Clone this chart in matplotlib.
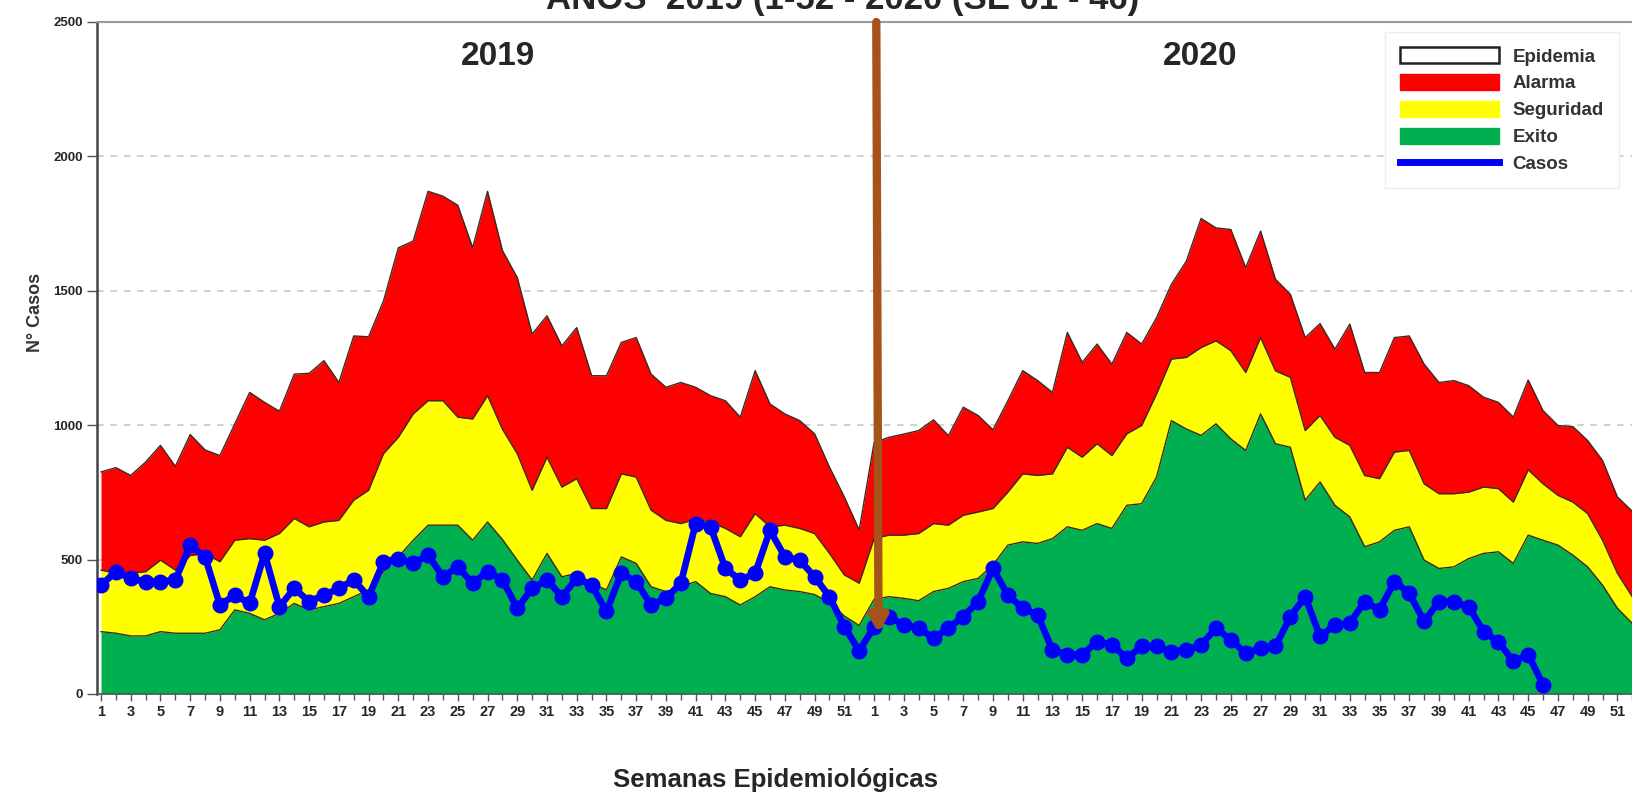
import matplotlib
matplotlib.use("Agg")
import matplotlib.pyplot as plt
from matplotlib.patches import Patch
from matplotlib.lines import Line2D
import numpy as np

plt.rcParams['font.family'] = ['Liberation Sans', 'DejaVu Sans']

# ---------------- data ----------------
weeks_2019 = list(range(1, 53))
weeks_2020 = list(range(1, 53))

exito_2019 = [232, 226, 216, 216, 232, 226, 226, 226, 239, 313, 300, 276, 300, 337, 313, 325,
              337, 362, 387, 455, 510, 572, 628, 628, 628, 572, 640, 575, 498, 424, 523, 436,
              449, 412, 387, 510, 486, 399, 381, 399, 418, 374, 362, 331, 362, 399, 387, 381,
              370, 340, 290, 255]
exito_2020 = [352, 362, 356, 347, 381, 393, 418, 430, 480, 554, 566, 560, 578, 622, 609, 634,
              616, 702, 708, 807, 1017, 986, 962, 1005, 949, 906, 1042, 931, 918, 721, 789, 702,
              659, 548, 566, 609, 622, 498, 467, 473, 504, 523, 529, 486, 591, 572, 554, 517,
              473, 405, 319, 263]

seguridad_2019 = [461, 449, 449, 455, 498, 461, 515, 523, 492, 572, 578, 572, 597, 653, 622, 640,
                  646, 721, 758, 894, 955, 1042, 1091, 1091, 1030, 1023, 1110, 985, 894, 758, 881, 770,
                  801, 690, 690, 819, 807, 684, 646, 634, 650, 640, 616, 585, 671, 622, 628, 616,
                  597, 523, 443, 412]
seguridad_2020 = [578, 591, 591, 597, 634, 628, 665, 677, 690, 751, 819, 813, 819, 918, 881, 931,
                  887, 968, 999, 1116, 1246, 1252, 1289, 1314, 1277, 1196, 1326, 1202, 1178, 980, 1036, 955,
                  925, 813, 801, 900, 906, 782, 745, 745, 751, 770, 764, 714, 834, 782, 739, 714,
                  671, 572, 449, 362]

alarma_2019 = [826, 842, 813, 863, 925, 847, 965, 908, 887, 1005, 1122, 1085, 1052, 1190, 1193, 1240,
               1159, 1332, 1329, 1462, 1660, 1685, 1870, 1852, 1818, 1660, 1870, 1650, 1549, 1339, 1407, 1295,
               1363, 1184, 1184, 1308, 1326, 1190, 1141, 1159, 1141, 1110, 1091, 1030, 1203, 1079, 1042, 1017,
               968, 844, 733, 610]
alarma_2020 = [935, 955, 967, 980, 1020, 961, 1067, 1036, 983, 1091, 1203, 1166, 1122, 1345, 1234, 1302,
               1227, 1345, 1302, 1400, 1524, 1610, 1769, 1734, 1728, 1586, 1722, 1543, 1487, 1326, 1378, 1283,
               1376, 1196, 1196, 1326, 1332, 1227, 1159, 1166, 1147, 1104, 1085, 1030, 1168, 1054, 999, 995,
               943, 869, 733, 680]

casos_2019 = [405, 455, 430, 418, 418, 424, 554, 510, 331, 368, 337, 523, 325, 393, 344, 368,
              393, 424, 362, 492, 504, 486, 517, 436, 473, 412, 455, 425, 319, 393, 424, 362,
              430, 405, 307, 449, 418, 331, 356, 412, 634, 622, 467, 424, 449, 609, 510, 498,
              436, 362, 251, 160]
casos_2020 = [250, 288, 257, 245, 208, 245, 288, 344, 467, 368, 319, 294, 164, 146, 146, 195,
              183, 133, 177, 177, 158, 164, 183, 245, 201, 152, 170, 177, 288, 362, 214, 257,
              263, 344, 313, 418, 375, 270, 344, 344, 325, 232, 195, 121, 146, 35]

y_ticks = [0, 500, 1000, 1500, 2000, 2500]
legend_labels = ["Epidemia", "Alarma", "Seguridad", "Exito", "Casos"]

# ---------------- build ----------------
exito = np.array(exito_2019 + exito_2020, dtype=float)
seguridad = np.array(seguridad_2019 + seguridad_2020, dtype=float)
alarma = np.array(alarma_2019 + alarma_2020, dtype=float)
casos = np.array(casos_2019 + casos_2020, dtype=float)
week_labels = weeks_2019 + weeks_2020
x = np.arange(len(week_labels))
xc = np.arange(len(casos))

GREEN = '#00B050'
YELLOW = '#FFFF00'
RED = '#FF0000'
BLUE = '#0000FF'
EDGE = '#3b2a20'
TXT = '#262626'

W, H = 1633, 793
fig = plt.figure(figsize=(W / 100, H / 100), dpi=100)
ax = fig.add_axes([97 / W, 1 - 694 / H, 1 - 97 / W, (694 - 22) / H])

ax.set_xlim(-0.27, 103.05)
ax.set_ylim(0, 2500)

# grid
for v in y_ticks[1:-1]:
    ax.axhline(v, color='#c8c8c8', lw=1.2, ls=(0, (4, 4)), zorder=0)

ax.fill_between(x, 0, exito, color=GREEN, lw=0, zorder=1)
ax.fill_between(x, exito, seguridad, color=YELLOW, lw=0, zorder=1)
ax.fill_between(x, seguridad, alarma, color=RED, lw=0, zorder=1)
for arr in (exito, seguridad, alarma):
    ax.plot(x, arr, color=EDGE, lw=1.0, zorder=2)

ax.plot(xc, casos, color=BLUE, lw=4.8, marker='o', ms=10.5, mfc=BLUE, mec=BLUE, zorder=4,
        solid_joinstyle='round')

# arrow
ax.annotate('', xy=(52.3, 225), xytext=(52.15, 2500), xycoords='data',
            arrowprops=dict(arrowstyle='-|>,head_width=0.5,head_length=0.9',
                            color='#A5521B', lw=6, shrinkA=0, shrinkB=0),
            zorder=5, annotation_clip=False)

# year labels
ax.text(26.7, 2370, '2019', ha='center', va='center', fontsize=24, fontweight='bold', color=TXT)
ax.text(73.9, 2370, '2020', ha='center', va='center', fontsize=24, fontweight='bold', color=TXT)

# ticks
ax.set_xticks(x[::2])
ax.set_xticklabels([str(w) for w in week_labels[::2]], fontsize=10.5, fontweight='bold', color=TXT)
ax.set_xticks(x, minor=True)
ax.tick_params(axis='x', which='major', length=5, width=1, color='#555555', pad=3, direction='out')
ax.tick_params(axis='x', which='minor', length=4, width=1, color='#555555', direction='out')
ax.set_yticks(y_ticks)
ax.set_yticklabels([str(v) for v in y_ticks], fontsize=9.5, fontweight='bold', color=TXT)
ax.tick_params(axis='y', length=7, width=1, color='#555555', pad=3)

ax.spines['right'].set_visible(False)
ax.spines['top'].set_color('#9a9a9a')
ax.spines['top'].set_linewidth(1.5)
ax.spines['left'].set_color('#444444')
ax.spines['left'].set_linewidth(1.8)
ax.spines['bottom'].set_color('#555555')
ax.spines['bottom'].set_linewidth(1.2)

# labels
fig.text(0.022, 0.606, 'N° Casos', rotation=90, ha='center', va='center', fontsize=13,
         fontweight='bold', color='#333333')
fig.text(0.475, 0.016, 'Semanas Epidemiológicas', ha='center', va='center', fontsize=18.5,
         fontweight='bold', color=TXT)
fig.text(0.516, 1 - 9 / H, 'AÑOS  2019 (1-52 - 2020 (SE 01 - 46)', ha='center', va='baseline',
         fontsize=25, fontweight='bold', color=TXT)

# legend
handles = [Patch(facecolor='white', edgecolor='#222222', lw=1.8),
           Patch(facecolor=RED, edgecolor=RED),
           Patch(facecolor=YELLOW, edgecolor=YELLOW),
           Patch(facecolor=GREEN, edgecolor=GREEN),
           Line2D([0], [0], color=BLUE, lw=5)]
leg = fig.legend(handles, legend_labels, loc='upper left', bbox_to_anchor=(1385 / W, 1 - 32 / H),
                 prop={'weight': 'bold', 'size': 13.5}, handlelength=5.3, handleheight=0.95,
                 labelspacing=0.45, handletextpad=0.7, borderpad=0.8, frameon=True, fancybox=False,
                 edgecolor='#eeeeee', framealpha=1, borderaxespad=0)
for t in leg.get_texts():
    t.set_color('#333333')

fig.savefig('out.png', dpi=100)
